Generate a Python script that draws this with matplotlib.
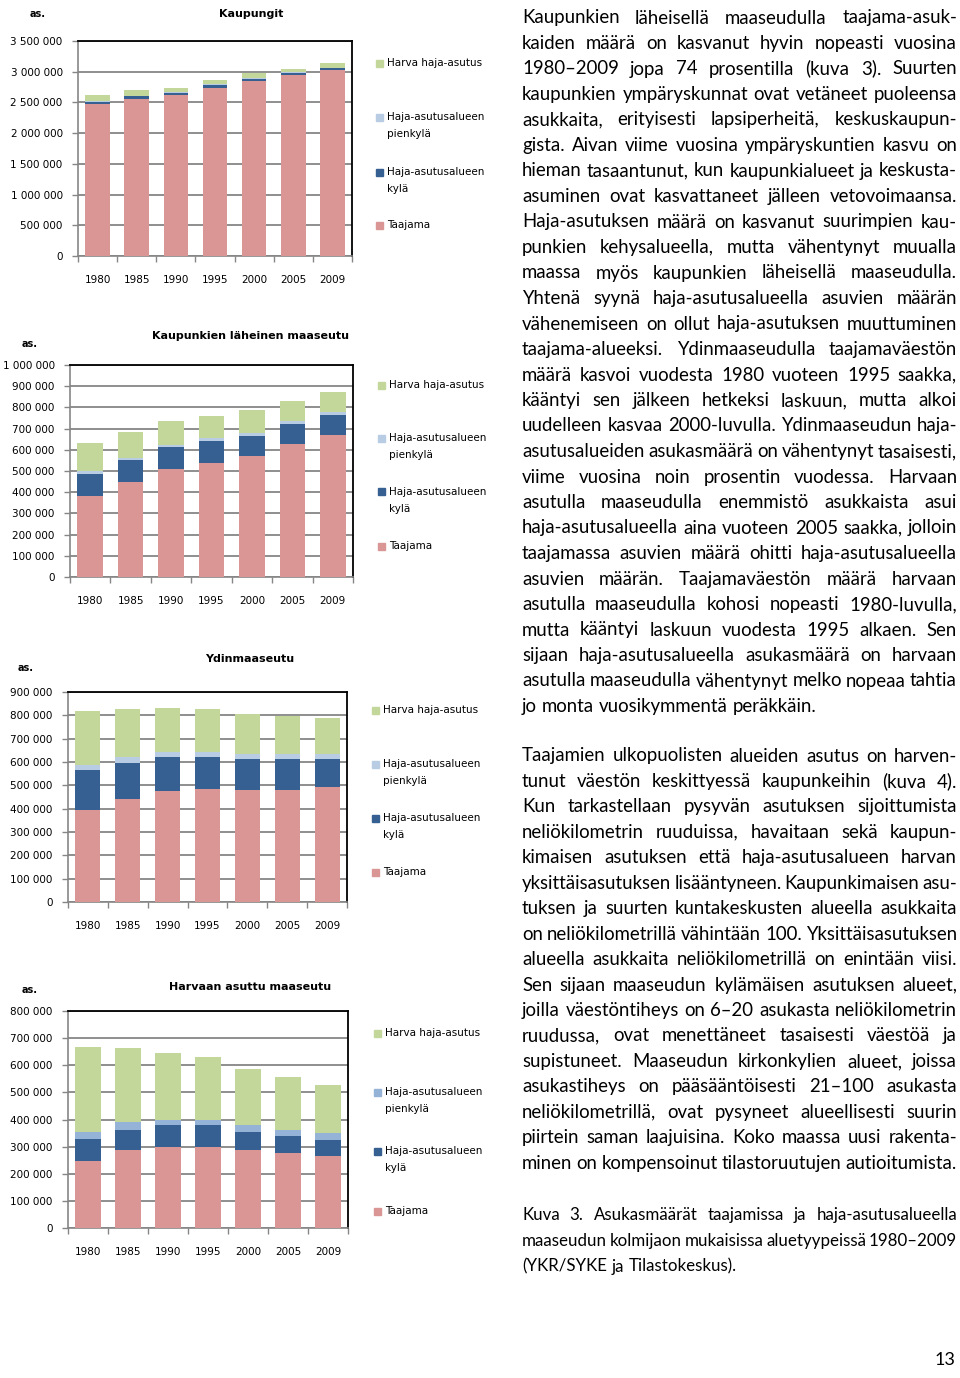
import matplotlib
matplotlib.use('Agg')
import matplotlib.pyplot as plt
import numpy as np
from matplotlib.patches import Rectangle
from matplotlib.ticker import FuncFormatter
from matplotlib import font_manager

years = ['1980', '1985', '1990', '1995', '2000', '2005', '2009']
series_names = ['Taajama', 'Haja-asutusalueen kylä', 'Haja-asutusalueen pienkylä', 'Harva haja-asutus']
legend_labels = ['Harva haja-asutus', 'Haja-asutusalueen\npienkylä', 'Haja-asutusalueen\nkylä', 'Taajama']

# Kaupungit
kaup_taajama = [2470000, 2550000, 2620000, 2740000, 2850000, 2950000, 3030000]
kaup_kyla = [45000, 50000, 40000, 45000, 30000, 35000, 30000]
kaup_pienkyla = [15000, 10000, 10000, 10000, 10000, 5000, 5000]
kaup_harva = [90000, 85000, 70000, 65000, 90000, 60000, 75000]

# Kaupunkien läheinen maaseutu
lah_taajama = [383000, 446000, 509000, 539000, 570000, 627000, 671000]
lah_kyla = [105000, 105000, 102000, 104000, 96000, 97000, 94000]
lah_pienkyla = [12000, 11000, 11000, 12000, 11000, 13000, 11000]
lah_harva = [133000, 121000, 113000, 104000, 109000, 94000, 96000]

# Ydinmaaseutu
ydin_taajama = [393000, 441000, 474000, 483000, 479000, 481000, 491000]
ydin_kyla = [173000, 153000, 147000, 138000, 134000, 132000, 123000]
ydin_pienkyla = [23000, 27000, 22000, 20000, 23000, 23000, 22000]
ydin_harva = [228000, 205000, 187000, 185000, 171000, 160000, 151000]

# Harvaan asuttu maaseutu
harv_taajama = [248000, 287000, 299000, 299000, 287000, 276000, 267000]
harv_kyla = [81000, 75000, 79000, 79000, 68000, 63000, 58000]
harv_pienkyla = [24000, 27000, 22000, 22000, 23000, 24000, 25000]
harv_harva = [314000, 275000, 245000, 229000, 207000, 192000, 176000]

W, H = 960, 1378
fig = plt.figure(figsize=(W / 100, H / 100), dpi=100)
renderer = fig.canvas.get_renderer()


def fx(px):
    return px / W


def fy(py):
    return 1 - py / H


gray = '#868686'
c_taajama = '#D99694'
c_kyla = '#366092'
c_harva = '#C4D79B'

charts = [
    dict(title='Kaupungit', data=[kaup_taajama, kaup_kyla, kaup_pienkyla, kaup_harva],
         box=(78, 41, 352, 256), ymax=3500000, step=500000, pien='#B8CCE4',
         title_pos=(251, 14), as_pos=(38, 14), leg=(379, 387, [63, 117, 172, 225])),
    dict(title='Kaupunkien läheinen maaseutu', data=[lah_taajama, lah_kyla, lah_pienkyla, lah_harva],
         box=(70, 365, 353, 577), ymax=1000000, step=100000, pien='#B8CCE4',
         title_pos=(251, 336), as_pos=(30, 344), leg=(381, 389, [385, 438, 492, 546])),
    dict(title='Ydinmaaseutu', data=[ydin_taajama, ydin_kyla, ydin_pienkyla, ydin_harva],
         box=(68, 692, 347, 902), ymax=900000, step=100000, pien='#B8CCE4',
         title_pos=(250, 659), as_pos=(26, 668), leg=(375, 383, [710, 764, 818, 872])),
    dict(title='Harvaan asuttu maaseutu', data=[harv_taajama, harv_kyla, harv_pienkyla, harv_harva],
         box=(68, 1011, 348, 1228), ymax=800000, step=100000, pien='#95B3D7',
         title_pos=(250, 987), as_pos=(30, 990), leg=(377, 385, [1033, 1092, 1151, 1211])),
]

fmt = FuncFormatter(lambda v, p: '{:,}'.format(int(v)).replace(',', ' '))

for ch in charts:
    x0, y0, x1, y1 = ch['box']
    ax = fig.add_axes([fx(x0), fy(y1), (x1 - x0) / W, (y1 - y0) / H])
    colors = [c_taajama, c_kyla, ch['pien'], c_harva]
    x = np.arange(len(years))
    bottom = np.zeros(len(years))
    for vals, col, name in zip(ch['data'], colors, series_names):
        ax.bar(x, vals, width=0.63, bottom=bottom, color=col, zorder=3, label=name)
        bottom += np.array(vals)
    ax.set_xlim(-0.5, 6.5)
    ax.set_ylim(0, ch['ymax'])
    ax.set_yticks(np.arange(0, ch['ymax'] + 1, ch['step']))
    ax.yaxis.set_major_formatter(fmt)
    ax.set_xticks(x)
    ax.set_xticklabels(years)
    ax.set_xticks(np.arange(-0.5, 7, 1), minor=True)
    ax.tick_params(axis='x', which='major', length=0, pad=14, labelsize=7.5)
    ax.tick_params(axis='x', which='minor', length=4, color=gray, width=1)
    ax.tick_params(axis='y', length=4, color=gray, width=1, pad=7, labelsize=7.5)
    ax.yaxis.grid(True, color=gray, lw=1.3, zorder=0)
    ax.set_axisbelow(True)
    for s in ['left', 'bottom']:
        ax.spines[s].set_color(gray)
        ax.spines[s].set_linewidth(1.2)
    for s in ['top', 'right']:
        ax.spines[s].set_color('black')
        ax.spines[s].set_linewidth(1.3)

    tx, ty = ch['title_pos']
    fig.text(fx(tx), fy(ty), ch['title'], ha='center', va='center', fontsize=8, fontweight='bold')
    axx, axy = ch['as_pos']
    fig.text(fx(axx), fy(axy), 'as.', ha='center', va='center', fontsize=7, fontweight='bold')

    mx, lx, lys = ch['leg']
    leg_colors = [c_harva, ch['pien'], c_kyla, c_taajama]
    for lab, col, ly in zip(legend_labels, leg_colors, lys):
        fig.add_artist(Rectangle((fx(mx - 3.5), fy(ly + 3.5)), 7 / W, 7 / H,
                                 transform=fig.transFigure, color=col))
        for i, part in enumerate(lab.split('\n')):
            fig.text(fx(lx), fy(ly + i * 17), part, ha='left', va='center', fontsize=7.5)

# body text
para1 = [
    "Kaupunkien läheisellä maaseudulla taajama-asuk-",
    "kaiden määrä on kasvanut hyvin nopeasti vuosina",
    "1980–2009 jopa 74 prosentilla (kuva 3). Suurten",
    "kaupunkien ympäryskunnat ovat vetäneet puoleensa",
    "asukkaita, erityisesti lapsiperheitä, keskuskaupun-",
    "gista. Aivan viime vuosina ympäryskuntien kasvu on",
    "hieman tasaantunut, kun kaupunkialueet ja keskusta-",
    "asuminen ovat kasvattaneet jälleen vetovoimaansa.",
    "Haja-asutuksen määrä on kasvanut suurimpien kau-",
    "punkien kehysalueella, mutta vähentynyt muualla",
    "maassa myös kaupunkien läheisellä maaseudulla.",
    "Yhtenä syynä haja-asutusalueella asuvien määrän",
    "vähenemiseen on ollut haja-asutuksen muuttuminen",
    "taajama-alueeksi. Ydinmaaseudulla taajamaväestön",
    "määrä kasvoi vuodesta 1980 vuoteen 1995 saakka,",
    "kääntyi sen jälkeen hetkeksi laskuun, mutta alkoi",
    "uudelleen kasvaa 2000-luvulla. Ydinmaaseudun haja-",
    "asutusalueiden asukasmäärä on vähentynyt tasaisesti,",
    "viime vuosina noin prosentin vuodessa. Harvaan",
    "asutulla maaseudulla enemmistö asukkaista asui",
    "haja-asutusalueella aina vuoteen 2005 saakka, jolloin",
    "taajamassa asuvien määrä ohitti haja-asutusalueella",
    "asuvien määrän. Taajamaväestön määrä harvaan",
    "asutulla maaseudulla kohosi nopeasti 1980-luvulla,",
    "mutta kääntyi laskuun vuodesta 1995 alkaen. Sen",
    "sijaan haja-asutusalueella asukasmäärä on harvaan",
    "asutulla maaseudulla vähentynyt melko nopeaa tahtia",
    "jo monta vuosikymmentä peräkkäin.",
]
para2 = [
    "Taajamien ulkopuolisten alueiden asutus on harven-",
    "tunut väestön keskittyessä kaupunkeihin (kuva 4).",
    "Kun tarkastellaan pysyvän asutuksen sijoittumista",
    "neliökilometrin ruuduissa, havaitaan sekä kaupun-",
    "kimaisen asutuksen että haja-asutusalueen harvan",
    "yksittäisasutuksen lisääntyneen. Kaupunkimaisen asu-",
    "tuksen ja suurten kuntakeskusten alueella asukkaita",
    "on neliökilometrillä vähintään 100. Yksittäisasutuksen",
    "alueella asukkaita neliökilometrillä on enintään viisi.",
    "Sen sijaan maaseudun kylämäisen asutuksen alueet,",
    "joilla väestöntiheys on 6–20 asukasta neliökilometrin",
    "ruudussa, ovat menettäneet tasaisesti väestöä ja",
    "supistuneet. Maaseudun kirkonkylien alueet, joissa",
    "asukastiheys on pääsääntöisesti 21–100 asukasta",
    "neliökilometrillä, ovat pysyneet alueellisesti suurin",
    "piirtein saman laajuisina. Koko maassa uusi rakenta-",
    "minen on kompensoinut tilastoruutujen autioitumista.",
]
caption = [
    "Kuva 3. Asukasmäärät taajamissa ja haja-asutusalueella",
    "maaseudun kolmijaon mukaisissa aluetyypeissä 1980–2009",
    "(YKR/SYKE ja Tilastokeskus).",
]

TX0, TX1 = 522, 957
names = {f.name for f in font_manager.fontManager.ttflist}


def word_width(w, size, fam):
    t = fig.text(0, 0, w, fontsize=size, family=fam)
    wd = t.get_window_extent(renderer).width
    t.remove()
    return wd


def need_width(lines, size, fam):
    # widest line with a minimal word gap
    best = 0
    for line in lines:
        words = line.split(' ')
        tot = sum(word_width(w, size, fam) for w in words) + (len(words) - 1) * size * 100 / 72 * 0.18
        best = max(best, tot)
    return best


cands = [f for f in ['Liberation Sans Narrow', 'Lato', 'Roboto', 'Liberation Sans'] if f in names] or ['DejaVu Sans']
body_lines = para1[:-1] + para2
widths = {f: need_width(body_lines, 14.5, f) for f in cands}
body_font = min(widths, key=widths.get)
body_size = min(14.5, 14.5 * (TX1 - TX0) / widths[body_font])
cap_size = min(12.8, 12.8 * (TX1 - TX0) / need_width(caption[:2], 12.8, body_font))
fam = [body_font, 'DejaVu Sans']


def text_line(line, yb, size, full):
    words = line.split(' ')
    objs, widths_ = [], []
    for w in words:
        t = fig.text(fx(TX0), fy(yb), w, fontsize=size, family=fam, va='baseline', ha='left')
        objs.append(t)
        widths_.append(t.get_window_extent(renderer).width)
    if full and len(words) > 1:
        gap = (TX1 - TX0 - sum(widths_)) / (len(words) - 1)
    else:
        gap = size * 100 / 72 * 0.26
    xp = TX0
    for t, w in zip(objs, widths_):
        t.set_x(fx(xp))
        xp += w + gap


def paragraph(lines, y_first, step, size, last_full=False):
    for i, line in enumerate(lines):
        full = (i < len(lines) - 1) or last_full
        text_line(line, y_first + i * step, size, full)


paragraph(para1, 23.5, 25.5, body_size)
paragraph(para2, 761.5, 25.45, body_size, last_full=True)
paragraph(caption, 1220, 25.8, cap_size)

fig.text(fx(945), fy(1365), '13', ha='center', va='baseline', fontsize=13, family=fam)

fig.savefig('out.png', dpi=100)
